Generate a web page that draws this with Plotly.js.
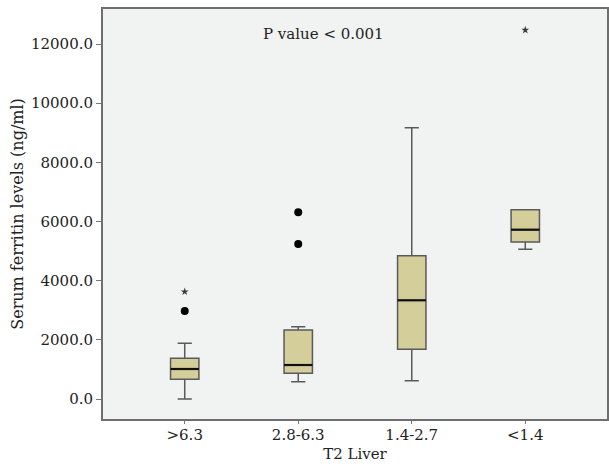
<!DOCTYPE html>
<html>
<head>
<meta charset="utf-8">
<script src="https://cdn.plot.ly/plotly-3.0.1.min.js"></script>
<style>html,body{margin:0;padding:0;background:#fff;}#chart{width:609px;height:468px;}</style>
</head>
<body>
<div id="chart"></div>
<script>
// Data
var categories = [">6.3", "2.8-6.3", "1.4-2.7", "<1.4"];
var lowerWhisker = [0, 585, 619, 5060];
var q1Values = [666, 868, 1680, 5307];
var medianValues = [1014, 1149, 3336, 5723];
var q3Values = [1376, 2332, 4844, 6399];
var upperWhisker = [1883, 2444, 9171, 6399];
// Outliers (circles) and extremes (stars)
var outlierGroup = [0, 1, 1];
var outlierValues = [2975, 6310, 5239];
var extremeGroup = [0, 3];
var extremeValues = [3627, 12472];
var yTickValues = [0, 2000, 4000, 6000, 8000, 10000, 12000];

var pos = categories.map(function(c, i){ return i; });
var boxW = 0.25;

var medX = [], medY = [];
pos.forEach(function(p, i){
  medX.push(p - boxW/2, p + boxW/2, null);
  medY.push(medianValues[i], medianValues[i], null);
});

var fontFam = "DejaVu Serif, serif";

var traces = [
  {
    type: "box",
    x: pos,
    q1: q1Values,
    median: medianValues,
    q3: q3Values,
    lowerfence: lowerWhisker,
    upperfence: upperWhisker,
    width: boxW,
    whiskerwidth: 0.5,
    boxpoints: false,
    fillcolor: "#d4cf9a",
    line: {color: "#5a5a5a", width: 1.5},
    hoverinfo: "skip",
    showlegend: false
  },
  {
    type: "scatter", mode: "lines",
    x: medX, y: medY,
    line: {color: "#111111", width: 2.2},
    hoverinfo: "skip", showlegend: false
  },
  {
    type: "scatter", mode: "markers",
    x: outlierGroup, y: outlierValues,
    marker: {symbol: "circle", size: 8, color: "#000000"},
    showlegend: false
  },
  {
    type: "scatter", mode: "markers",
    x: extremeGroup, y: extremeValues,
    marker: {symbol: "star", size: 6, color: "#3a3a3a"},
    showlegend: false
  }
];

var layout = {
  width: 609, height: 468,
  margin: {l: 103, r: 2, t: 9, b: 49},
  paper_bgcolor: "#ffffff",
  plot_bgcolor: "#f1f2f2",
  font: {family: fontFam, size: 15, color: "#222222"},
  showlegend: false,
  xaxis: {
    range: [-0.72, 3.72],
    tickvals: pos,
    ticktext: categories,
    ticks: "outside", ticklen: 3, tickcolor: "#777777",
    ticklabelstandoff: -2,
    showgrid: false, zeroline: false,
    showline: true, linecolor: "#6e6e6e", linewidth: 2, mirror: true,
    tickfont: {family: fontFam, size: 15, color: "#222222"},
    title: {text: "T2 Liver", font: {family: fontFam, size: 15, color: "#222222"}, standoff: 5}
  },
  yaxis: {
    range: [-676, 13183],
    tickvals: yTickValues,
    tickformat: ".1f",
    ticks: "outside", ticklen: 5, tickcolor: "#777777",
    showgrid: false, zeroline: false,
    showline: true, linecolor: "#6e6e6e", linewidth: 2, mirror: true,
    tickfont: {family: fontFam, size: 15, color: "#222222"},
    title: {text: "Serum ferritin levels (ng/ml)", font: {family: fontFam, size: 16, color: "#222222"}, standoff: 3}
  },
  annotations: [{
    xref: "paper", yref: "paper", x: 0.438, y: 0.939,
    text: "P value < 0.001", showarrow: false,
    font: {family: fontFam, size: 15, color: "#222222"},
    xanchor: "center", yanchor: "middle"
  }]
};

Plotly.newPlot("chart", traces, layout, {displayModeBar: false, staticPlot: true});
</script>
</body>
</html>
